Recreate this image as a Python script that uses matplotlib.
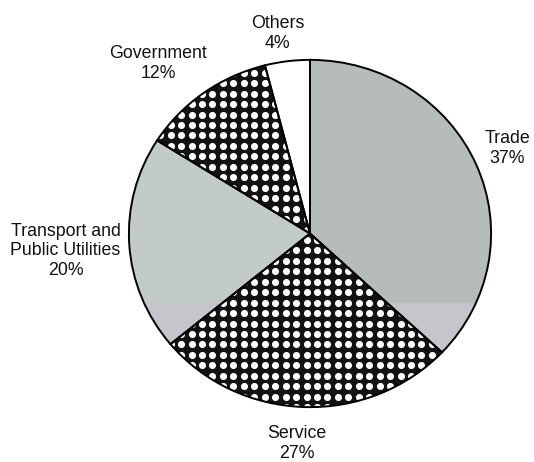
import numpy as np
import matplotlib.pyplot as plt
from matplotlib.patches import Rectangle

plt.rcParams['font.family'] = ['Liberation Sans', 'DejaVu Sans']

# Employment shares by sector
sectors = ['Trade', 'Service', 'Transport and\nPublic Utilities', 'Government', 'Others']
shares = [37, 27, 20, 12, 4]

# fill per slice; dotted slices get a white dot grid on black
fills = ['#b6bcb8', '#121212', '#c3cbc7', '#121212', '#ffffff']
dotted = [False, True, False, True, False]

# where each label block sits (data coords, pie radius = 1)
label_pos = [(1.09, 0.49), (-0.07, -1.21), (-1.35, -0.10), (-0.84, 0.98), (-0.18, 1.15)]

fig = plt.figure(figsize=(5.34, 4.62), dpi=100)
ax = fig.add_axes([128 / 534, 1 - 408 / 462, 364 / 534, 349 / 462])

wedges, _ = ax.pie(shares, startangle=90, counterclock=False, colors=fills,
                   wedgeprops=dict(linewidth=0))

# lighter lower band on the grey slices
for i in (0, 2):
    band = Rectangle((-1.1, -1.1), 2.2, 0.7, facecolor='#c7c5cb', edgecolor='none', zorder=2)
    ax.add_patch(band)
    band.set_clip_path(wedges[i])

# white dot grid on the dark slices
gx, gy = np.meshgrid(np.arange(-1.0, 1.0, 10.5 / 182), np.arange(-1.0, 1.0, 10.5 / 174.5))
for i, d in enumerate(dotted):
    if d:
        sc = ax.scatter(gx.ravel(), gy.ravel(), s=26, c='white', linewidths=0, zorder=3)
        sc.set_clip_path(wedges[i])

# outlines on top
ax.pie(shares, startangle=90, counterclock=False,
       wedgeprops=dict(fill=False, edgecolor='black', linewidth=1.4, zorder=4))

for name, pct, (x, y) in zip(sectors, shares, label_pos):
    ax.text(x, y, f'{name}\n{pct}%', ha='center', va='center', fontsize=12.8,
            linespacing=1.22, color='#111111')

ax.set_aspect('auto')
ax.set_xlim(-1.005, 1.005)
ax.set_ylim(-1.005, 1.005)
ax.axis('off')

fig.savefig('out.png', dpi=100)
